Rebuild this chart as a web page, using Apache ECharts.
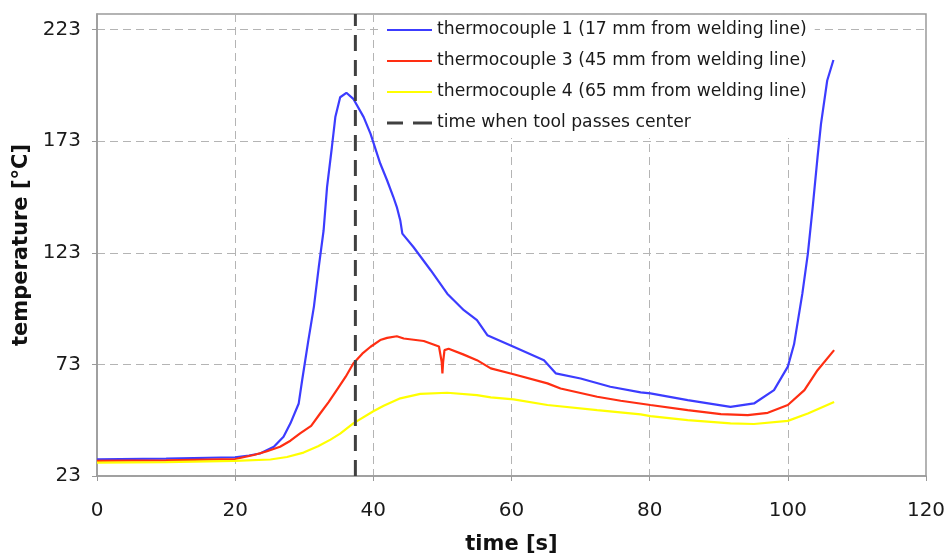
<!DOCTYPE html>
<html>
<head>
<meta charset="utf-8">
<script src="https://cdn.jsdelivr.net/npm/echarts@6/dist/echarts.min.js"></script>
<style>
html,body{margin:0;padding:0;background:#fff;}
#chart{width:948px;height:554px;}
</style>
</head>
<body>
<div id="chart"></div>
<script>
// ---- data ----
const seriesNames = [
  'thermocouple 1 (17 mm from welding line)',
  'thermocouple 3 (45 mm from welding line)',
  'thermocouple 4 (65 mm from welding line)',
  'time when tool passes center'
];
const tc1Time = [0, 10, 20, 22, 23.6, 25.6, 27, 28, 29.2, 29.7, 30.6, 31.4, 32.1, 32.8, 33.3, 34, 34.5, 35.2, 36.1, 37.1, 38.6, 39.6, 40, 41, 42, 42.9, 43.4, 43.9, 44.2, 45.8, 48.3, 50.7, 53.1, 55, 56.5, 60.3, 64.7, 66.4, 70, 74.3, 78.7, 80.1, 85.5, 91.7, 95.1, 98, 100, 100.9, 102.1, 102.9, 103.6, 104.3, 104.8, 105.7, 106.6];
const tc1Temp = [30.5, 30.8, 31.4, 32.2, 33.1, 36.1, 40.6, 46.6, 55.5, 66, 83.9, 98.9, 116.6, 133, 152.4, 170.3, 183.8, 192.7, 194.7, 192, 183.8, 176.3, 172.5, 163, 155.4, 148, 143.5, 137.5, 131.6, 125.6, 115.2, 104.7, 97.3, 92.8, 86.1, 80.9, 74.9, 69, 66.7, 63, 60.5, 60, 57, 54, 55.5, 61.5, 72, 82, 104.7, 122.6, 143.5, 165.9, 180.8, 200.2, 209.4];
const tc3Time = [0, 10, 20, 22.7, 24.5, 26.5, 28, 29.4, 31, 32.3, 33.5, 34.7, 36, 37.1, 38.4, 39.6, 41, 42, 43.4, 44.4, 47.3, 49.5, 49.9, 50.0, 50.1, 50.3, 50.9, 53, 55, 57, 60.3, 65.2, 67.1, 72.4, 75.8, 80.1, 85.5, 90.3, 94.2, 97.1, 100, 102.4, 104.3, 106.7];
const tc3Temp = [29.8, 30.0, 30.6, 32.4, 34, 36.1, 38.8, 42.1, 45.5, 51, 56, 61.5, 67.5, 73.4, 77.8, 80.9, 83.9, 84.9, 85.6, 84.6, 83.5, 81, 74, 69, 74, 79.4, 80, 77.5, 74.9, 71.2, 68.6, 64.5, 62.2, 58.5, 56.7, 54.8, 52.5, 50.7, 50.3, 51.3, 54.8, 61.5, 70.4, 79.4];
const tc4Time = [0, 10, 20, 25.1, 27.5, 29.9, 32, 33.8, 35.2, 37.1, 40, 41.5, 43.9, 46.8, 50.7, 55, 57, 60.3, 65.2, 72.4, 78.7, 80.1, 85.5, 91.7, 95.1, 100, 102.9, 106.7];
const tc4Temp = [29.0, 29.2, 29.8, 30.4, 31.5, 33.5, 36.3, 39.3, 42, 46.6, 52, 54.5, 57.8, 59.8, 60.3, 59.2, 58.2, 57.3, 54.8, 52.5, 50.6, 49.8, 48, 46.6, 46.3, 47.7, 51, 56.2];
const toolPassTime = 37.4;
const xTicks = {min: 0, max: 120, step: 20};
const yTicks = {min: 23, max: 230, step: 50};

// ---- build ----
const pairs = (xs, ys) => xs.map((x, i) => [x, ys[i]]);
const FONT = '"DejaVu Sans", Verdana, sans-serif';
const colors = ['#3c3cff', '#ff2e12', '#ffff00', '#404040'];
const solidIcon = 'path://M0,0h45v2h-45z';
const dashIcon = 'path://M0,0h16v3h-16zM26,0h19v3h-19z';

const chart = echarts.init(document.getElementById('chart'), null, {renderer: 'canvas'});
chart.setOption({
  animation: false,
  backgroundColor: '#ffffff',
  grid: {left: 97, right: 22, top: 14, bottom: 78, containLabel: false, outerBoundsMode: 'none',
         show: true, borderColor: '#9a9a9a', borderWidth: 1.5, backgroundColor: 'transparent'},
  legend: {
    orient: 'vertical', left: 380, top: 15,
    padding: [5, 8, 5, 7],
    backgroundColor: '#ffffff',
    itemWidth: 45, itemHeight: 14, itemGap: 11,
    symbolKeepAspect: true,
    textStyle: {fontFamily: FONT, fontSize: 17.2, color: '#1a1a1a', lineHeight: 20},
    data: [
      {name: seriesNames[0], icon: solidIcon},
      {name: seriesNames[1], icon: solidIcon},
      {name: seriesNames[2], icon: solidIcon},
      {name: seriesNames[3], icon: dashIcon}
    ]
  },
  xAxis: {
    type: 'value', min: xTicks.min, max: xTicks.max, interval: xTicks.step,
    name: 'time [s]', nameLocation: 'middle', nameGap: 58,
    nameTextStyle: {fontFamily: FONT, fontSize: 21, fontWeight: 'bold', color: '#111'},
    axisLine: {show: true, lineStyle: {color: '#9a9a9a', width: 1.5}},
    axisTick: {show: true, length: 5, lineStyle: {color: '#9a9a9a'}},
    axisLabel: {fontFamily: FONT, fontSize: 20, color: '#1a1a1a', margin: 25},
    splitLine: {show: true, lineStyle: {color: '#b4b4b4', type: [8, 5], width: 1}}
  },
  yAxis: {
    type: 'value', min: yTicks.min, max: yTicks.max, interval: yTicks.step,
    name: 'temperature [°C]', nameLocation: 'middle', nameGap: 64,
    nameTextStyle: {fontFamily: FONT, fontSize: 21, fontWeight: 'bold', color: '#111'},
    axisLine: {show: true, lineStyle: {color: '#9a9a9a', width: 1.5}},
    axisTick: {show: true, length: 5, lineStyle: {color: '#9a9a9a'}},
    axisLabel: {fontFamily: FONT, fontSize: 20, color: '#1a1a1a', margin: 16, showMaxLabel: false},
    splitLine: {show: true, lineStyle: {color: '#b4b4b4', type: [8, 5], width: 1}}
  },
  series: [
    {name: seriesNames[0], type: 'line', symbol: 'none', data: pairs(tc1Time, tc1Temp), lineStyle: {color: colors[0], width: 2.2}, itemStyle: {color: colors[0]}},
    {name: seriesNames[1], type: 'line', symbol: 'none', data: pairs(tc3Time, tc3Temp), lineStyle: {color: colors[1], width: 2.2}, itemStyle: {color: colors[1]}},
    {name: seriesNames[2], type: 'line', symbol: 'none', data: pairs(tc4Time, tc4Temp), lineStyle: {color: colors[2], width: 2.2}, itemStyle: {color: colors[2]}},
    {name: seriesNames[3], type: 'line', symbol: 'none', data: [[toolPassTime, yTicks.min], [toolPassTime, yTicks.max]], lineStyle: {color: colors[3], width: 3, type: [16, 9]}, itemStyle: {color: colors[3]}}
  ]
});
</script>
</body>
</html>
